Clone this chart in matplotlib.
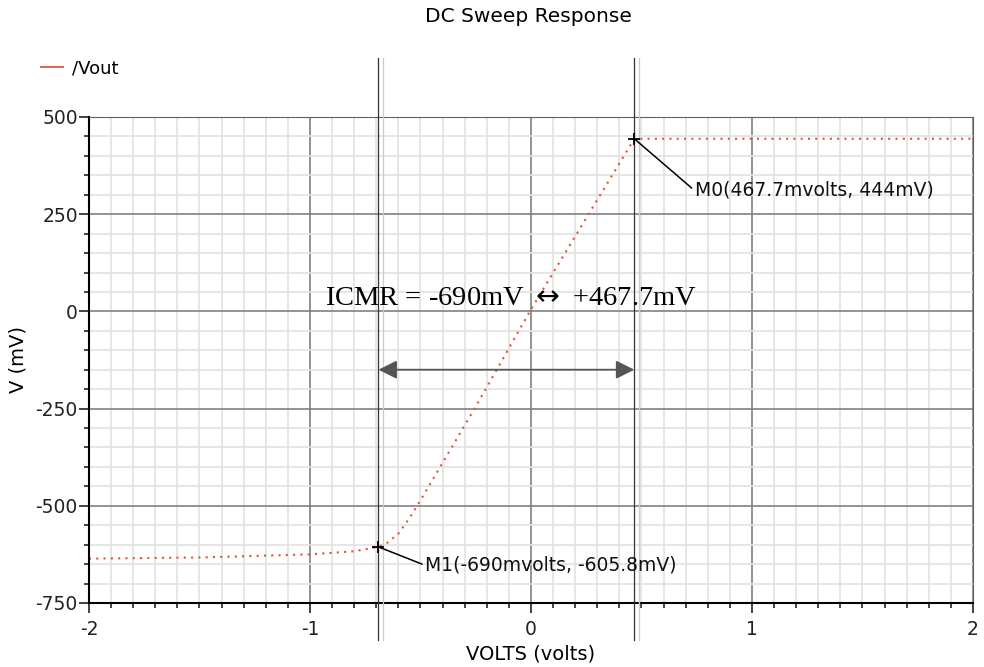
import matplotlib.pyplot as plt
from matplotlib.lines import Line2D
from matplotlib.ticker import MultipleLocator

plt.rcParams['axes.unicode_minus'] = False

# sweep input (V) and output (mV)
vin = [-2.0, -1.5, -1.0, -0.8, -0.69, -0.65, -0.6, -0.55, -0.5, -0.25, 0.0, 0.25, 0.4677, 1.0, 1.5, 2.0]
vout = [-636, -633, -625, -617, -605.8, -595, -572, -532, -486, -245, 5, 240, 444, 444, 444, 444]

# cursor markers
m_x = [0.4677, -0.69]
m_y = [444, -605.8]
m_labels = ["M0(467.7mvolts, 444mV)", "M1(-690mvolts, -605.8mV)"]
m_text_pos = [(0.74, 311), (-0.48, -653)]

red = '#d9573c'

fig = plt.figure(figsize=(9.84, 6.67), dpi=100)
ax = fig.add_axes([0.0904, 0.096, 0.8984, 0.7286])

ax.set_xlim(-2, 2)
ax.set_ylim(-750, 500)
ax.xaxis.set_major_locator(MultipleLocator(1))
ax.xaxis.set_minor_locator(MultipleLocator(0.1))
ax.yaxis.set_major_locator(MultipleLocator(250))
ax.yaxis.set_minor_locator(MultipleLocator(50))

ax.grid(which='minor', color='#e2e2e2', linewidth=1.2)
ax.grid(which='major', color='#808080', linewidth=1.2)
ax.set_axisbelow(True)

for s in ['top', 'right']:
    ax.spines[s].set_color('#606060')
for s in ['left', 'bottom']:
    ax.spines[s].set_linewidth(1.5)

ax.tick_params(which='major', direction='out', length=7, width=1.2, labelsize=13.5, colors='#222222')
ax.tick_params(axis='y', which='major', pad=1)
ax.tick_params(axis='x', which='major', pad=5)
ax.tick_params(which='minor', direction='out', length=3.5, width=1.2, colors='#222222')

ax.plot(vin, vout, color=red, linestyle=(0, (1, 2.5)), linewidth=1.5)

# cursor lines extending outside plot
for xv in m_x:
    ax.axvline(xv, ymin=-0.076, ymax=1.121, color='#333333', linewidth=0.9, clip_on=False, zorder=3)
    ax.axvline(xv + 0.022, ymin=-0.076, ymax=1.121, color='#cccccc', linewidth=0.9, clip_on=False, zorder=3)

ax.plot(m_x, m_y, marker='+', color='black', markersize=9, markeredgewidth=1.3, linestyle='none', zorder=5)
for xm, ym, lab, (tx, ty) in zip(m_x, m_y, m_labels, m_text_pos):
    ax.annotate(lab, xy=(xm, ym), xytext=(tx, ty), fontsize=13.5, color='#111111',
                ha='left', va='center',
                arrowprops=dict(arrowstyle='-', color='black', lw=1.1,
                                shrinkA=0, shrinkB=0, relpos=(0, 0.5)))

ax.text(-0.09, 33, "ICMR = -690mV $\\leftrightarrow$ +467.7mV", family='Liberation Serif',
        fontsize=20.5, ha='center', va='center', color='black')

ax.annotate('', xy=(-0.69, -150), xytext=(0.4677, -150),
            arrowprops=dict(arrowstyle='<|-|>', color='#555555', lw=1.3,
                            mutation_scale=28, shrinkA=0, shrinkB=0))

ax.set_xlabel("VOLTS (volts)", fontsize=14, labelpad=4)
ax.set_ylabel("V (mV)", fontsize=14, labelpad=6)
fig.text(0.537, 0.975, "DC Sweep Response", fontsize=14.5, ha='center', va='center')

handle = Line2D([], [], color=red, linewidth=1.3)
fig.legend([handle], ["/Vout"], loc='upper left', bbox_to_anchor=(0.025, 0.935),
           frameon=False, fontsize=13, handlelength=1.2, handletextpad=0.5)

fig.savefig('out.png', dpi=100)
